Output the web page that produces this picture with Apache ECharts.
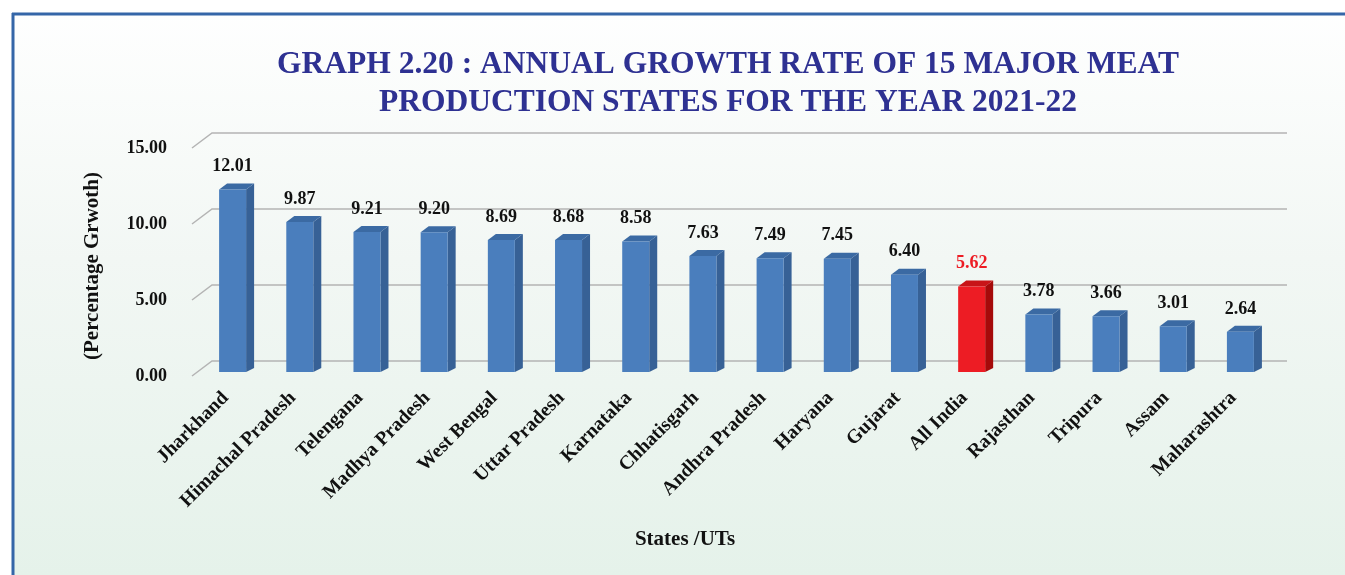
<!DOCTYPE html>
<html>
<head>
<meta charset="utf-8">
<script src="https://cdn.jsdelivr.net/npm/echarts@6/dist/echarts.min.js"></script>
<style>
  html, body { margin: 0; padding: 0; }
  #chart { width: 1345px; height: 575px; }
</style>
</head>
<body>
<div id="chart"></div>
<script>
const states = ['Jharkhand', 'Himachal Pradesh', 'Telengana', 'Madhya Pradesh', 'West Bengal',
  'Uttar Pradesh', 'Karnataka', 'Chhatisgarh', 'Andhra Pradesh', 'Haryana', 'Gujarat',
  'All India', 'Rajasthan', 'Tripura', 'Assam', 'Maharashtra']
const growth = [12.01, 9.87, 9.21, 9.20, 8.69, 8.68, 8.58, 7.63, 7.49, 7.45, 6.40, 5.62, 3.78, 3.66, 3.01, 2.64]
const yTicks = [0, 5, 10, 15]
const highlight = 'All India'

const serif = '"Liberation Serif", "DejaVu Serif", serif'
const depthX = 20, depthY = 15 // front plane -> back wall

const chart = echarts.init(document.getElementById('chart'))

// 3d looking bar
function renderBar(params, api) {
  const idx = api.value(0)
  const top = api.coord([idx, api.value(1)])
  const base = api.coord([idx, 0])
  const red = states[idx] === highlight
  const L = top[0] - 6.5, W = 27, R = L + W
  const yt = top[1] - 4, yb = base[1] - 4
  const dx = 8, dy = 6
  return {
    type: 'group',
    children: [
      { type: 'polygon', shape: { points: [[R, yt], [R + dx, yt - dy], [R + dx, yb - 4], [R, yb]] },
        style: { fill: red ? '#a50a0a' : '#376196' } },
      { type: 'polygon', shape: { points: [[L, yt], [L + dx, yt - dy], [R + dx, yt - dy], [R, yt]] },
        style: { fill: red ? '#c81418' : '#3b6aa3' } },
      { type: 'rect', shape: { x: L, y: yt, width: W, height: yb - yt },
        style: { fill: red ? '#ed1c24' : '#4a7ebd' } },
      { type: 'text', x: L + W / 2, y: yt - 23,
        style: { text: api.value(1).toFixed(2), fill: red ? '#ed1c24' : '#111',
          font: 'bold 18px ' + serif, align: 'center', verticalAlign: 'middle' } }
    ]
  }
}

// back wall grid lines with the slanted bit at the left
function renderGrid(params, api) {
  const cs = params.coordSys
  const p = api.coord([0, api.value(0)])
  const x0 = cs.x, y = p[1]
  return {
    type: 'polyline',
    shape: { points: [[x0, y], [x0 + depthX, y - depthY], [x0 + cs.width + depthX, y - depthY]] },
    style: { stroke: '#b4b4b4', lineWidth: 1.5, fill: null }
  }
}

chart.setOption({
  animation: false,
  graphic: [
    { type: 'rect', z: -10, shape: { x: 0, y: 0, width: 1345, height: 575 },
      style: { fill: new echarts.graphic.LinearGradient(0, 0, 0, 1, [
        { offset: 0, color: '#ffffff' }, { offset: 0.45, color: '#f2f7f4' }, { offset: 1, color: '#e5f2ea' }]) } },
    { type: 'rect', z: -9, shape: { x: 0, y: 0, width: 1345, height: 13 }, style: { fill: '#ffffff' } },
    { type: 'rect', z: -9, shape: { x: 0, y: 0, width: 12, height: 575 }, style: { fill: '#ffffff' } },
    { type: 'line', shape: { x1: 12, y1: 14, x2: 1345, y2: 14 }, style: { stroke: '#3566a8', lineWidth: 3 } },
    { type: 'line', shape: { x1: 13, y1: 13, x2: 13, y2: 575 }, style: { stroke: '#3566a8', lineWidth: 3 } },
    { type: 'text', rotation: Math.PI / 2, x: 93, y: 266,
      style: { text: '(Percentage Grwoth)', font: 'bold 21px ' + serif, fill: '#111',
        align: 'center', verticalAlign: 'middle' } },
    { type: 'text', x: 685, y: 540,
      style: { text: 'States /UTs', font: 'bold 21px ' + serif, fill: '#111',
        align: 'center', verticalAlign: 'middle' } }
  ],
  title: {
    text: 'GRAPH 2.20 : ANNUAL GROWTH RATE OF 15 MAJOR MEAT\nPRODUCTION STATES FOR THE YEAR 2021-22',
    left: 723,
    top: 41,
    textAlign: 'center',
    textStyle: { fontFamily: serif, fontWeight: 'bold', fontSize: 31.5, color: '#2e3192', lineHeight: 38 }
  },
  grid: { left: 192, right: 78, top: 148, bottom: 199 },
  xAxis: {
    type: 'category',
    data: states,
    axisLine: { show: false },
    axisTick: { show: false },
    axisLabel: { rotate: 45, interval: 0, margin: 19, color: '#111',
      fontFamily: serif, fontWeight: 'bold', fontSize: 19.5 }
  },
  yAxis: {
    type: 'value',
    min: 0, max: 15, interval: 5,
    axisLine: { show: false },
    axisTick: { show: false },
    splitLine: { show: false },
    axisLabel: { margin: 25, color: '#111', fontFamily: serif, fontWeight: 'bold', fontSize: 18,
      formatter: v => v.toFixed(2) }
  },
  series: [
    { type: 'custom', renderItem: renderGrid, data: yTicks.map(v => [v]), z: 1, silent: true },
    { type: 'custom', renderItem: renderBar, data: growth.map((v, i) => [i, v]), z: 2 }
  ]
})
</script>
</body>
</html>
